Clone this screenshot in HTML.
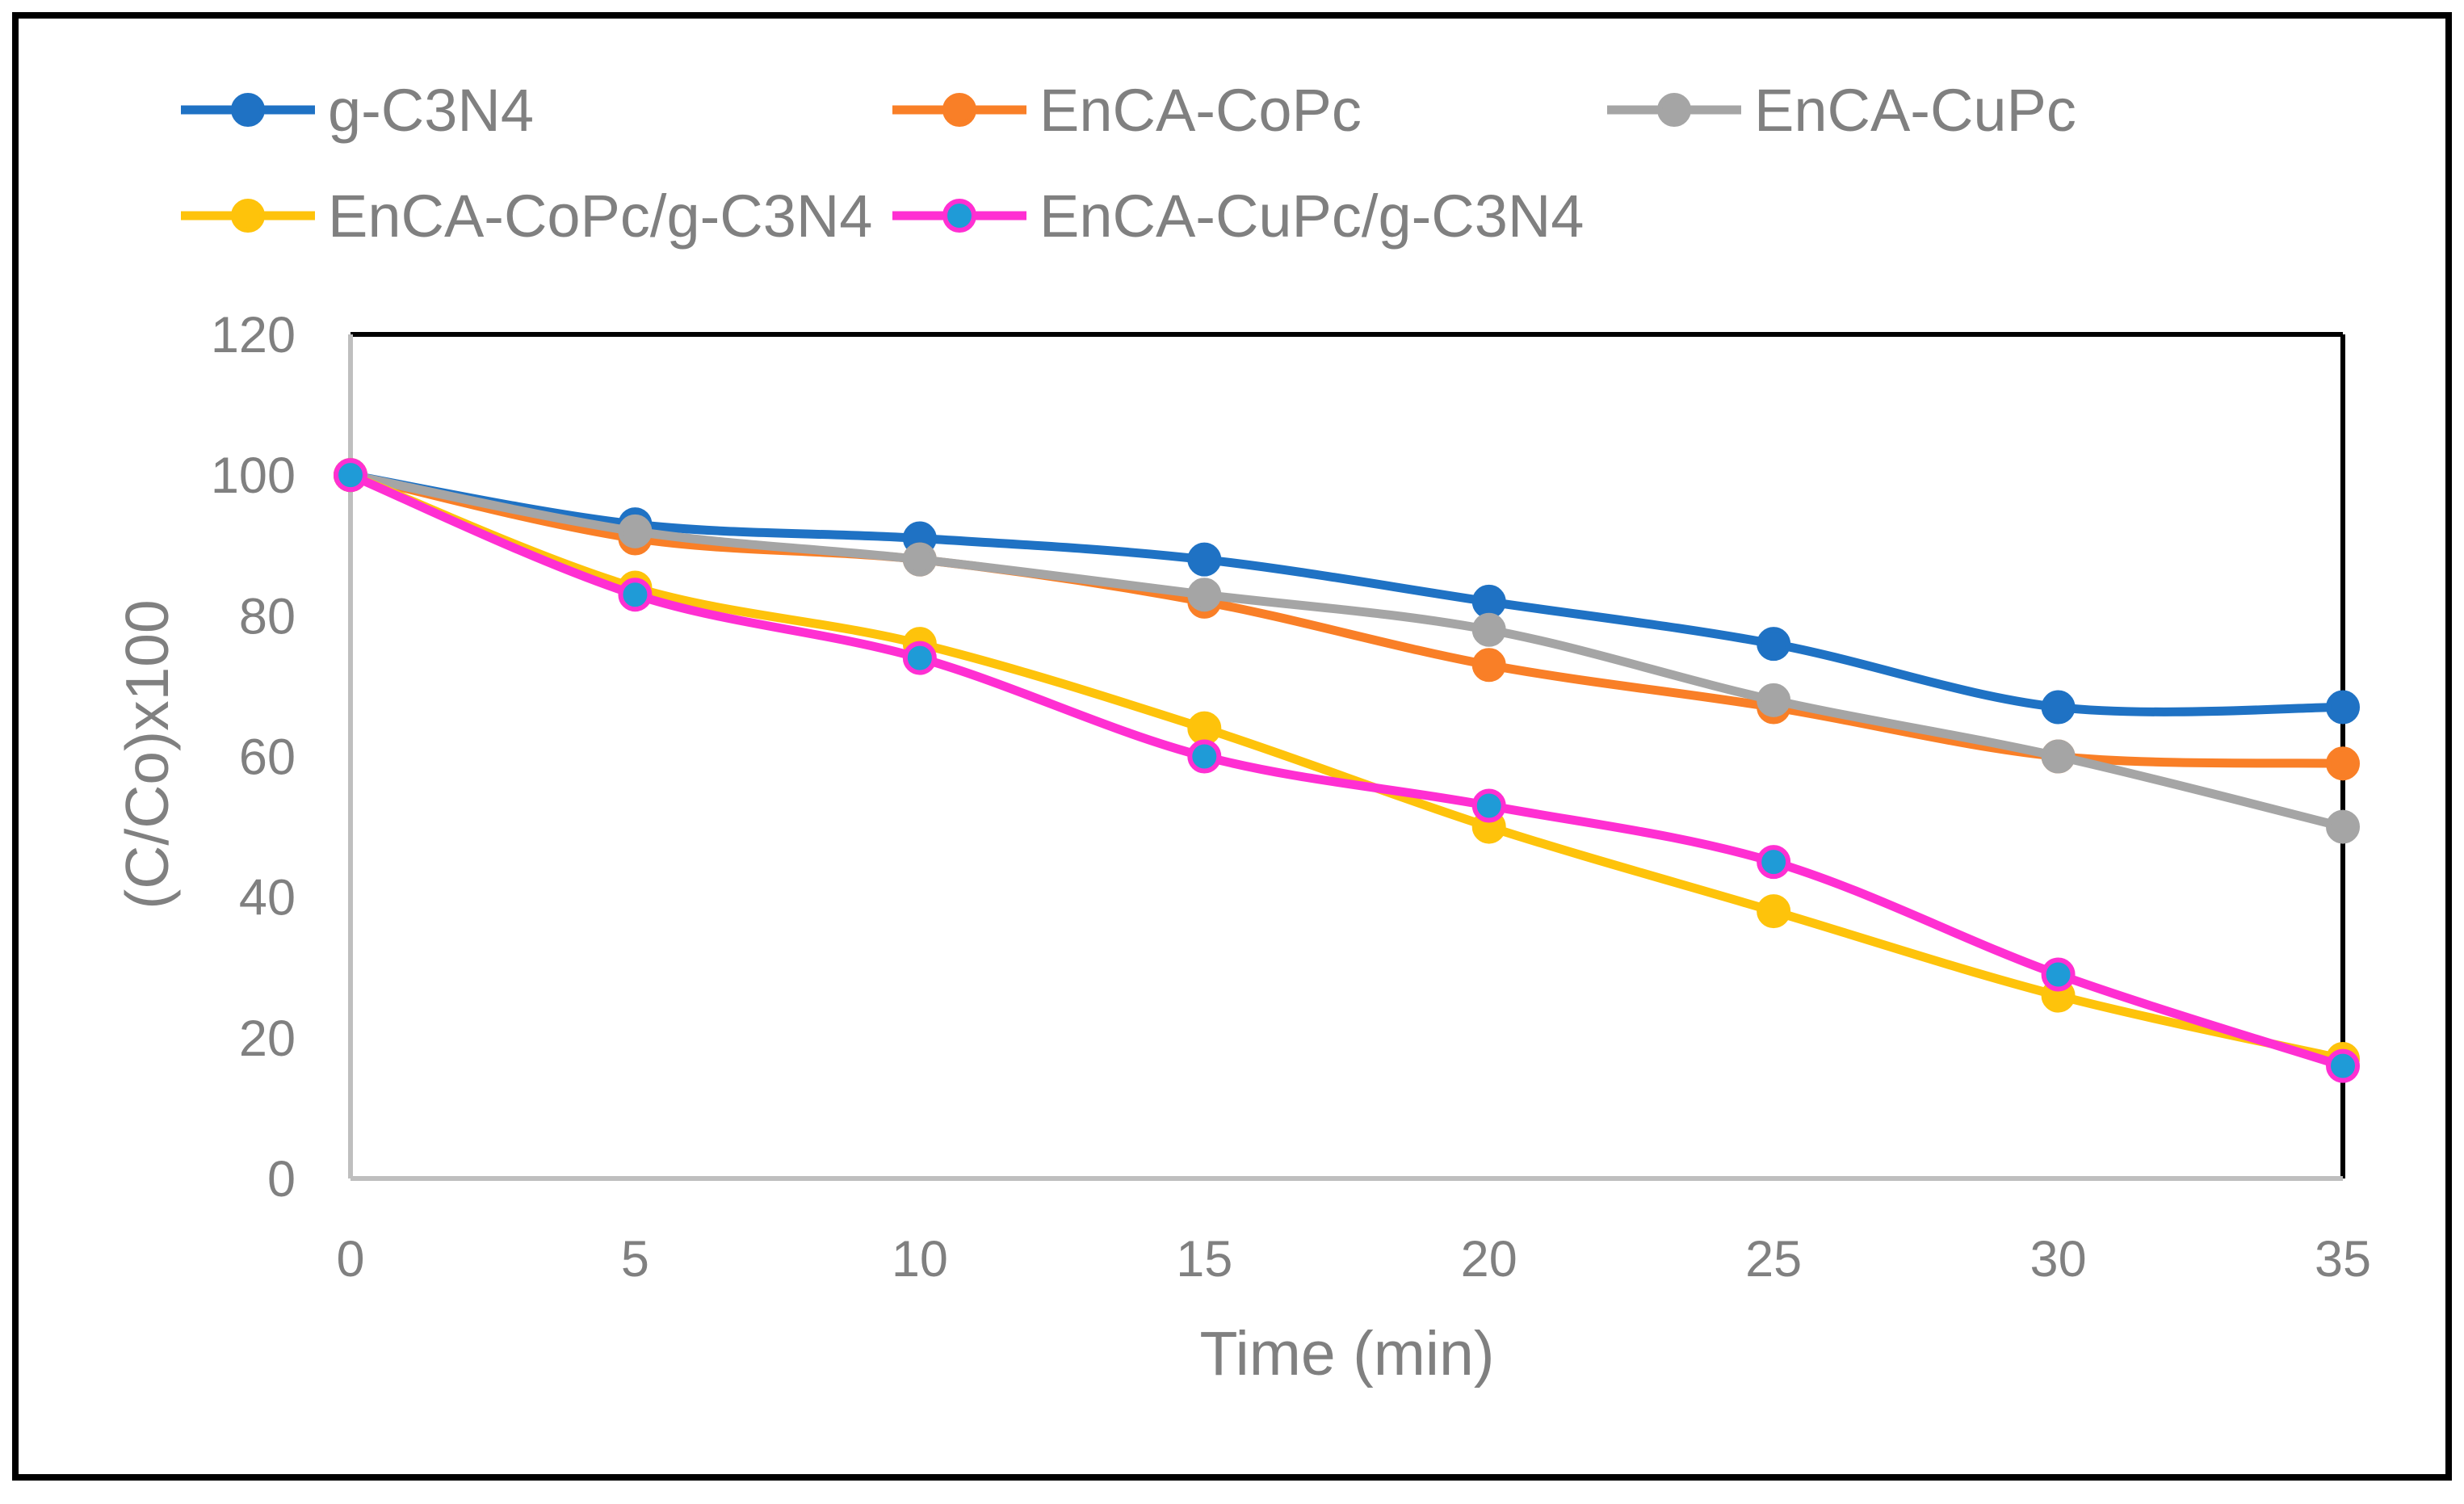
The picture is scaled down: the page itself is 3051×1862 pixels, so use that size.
<!DOCTYPE html>
<html><head><meta charset="utf-8"><style>
html,body{margin:0;padding:0;background:#fff;}
svg{display:block;font-family:"Liberation Sans","DejaVu Sans",sans-serif;}
</style></head><body>
<svg id="chart" width="3051" height="1862" viewBox="0 0 3051 1862">
<rect x="19" y="19" width="3013" height="1810" fill="#fff" stroke="#000" stroke-width="8"/>
<g id="plot"></g>
</svg>
<script>
const xValues = [0, 5, 10, 15, 20, 25, 30, 35];
const seriesNames = ["g-C3N4", "EnCA-CoPc", "EnCA-CuPc", "EnCA-CoPc/g-C3N4", "EnCA-CuPc/g-C3N4"];
const gC3N4 = [100, 93, 91, 88, 82, 76, 67, 67];
const encaCoPc = [100, 91, 88, 82, 73, 67, 60, 59];
const encaCuPc = [100, 92, 88, 83, 78, 68, 60, 50];
const encaCoPcG = [100, 84, 76, 64, 50, 38, 26, 17];
const encaCuPcG = [100, 83, 74, 60, 53, 45, 29, 16];
const yTicks = [0, 20, 40, 60, 80, 100, 120];
const xTicks = [0, 5, 10, 15, 20, 25, 30, 35];

const NS = "http://www.w3.org/2000/svg";
const svg = document.getElementById("chart");
const L = 434, R = 2901, T = 414, B = 1459;
const xs = v => L + (v - 0) / 35 * (R - L);
const ys = v => B - v / 120 * (B - T);
function mk(tag, attrs, parent) {
  const e = document.createElementNS(NS, tag);
  for (const k in attrs) e.setAttribute(k, attrs[k]);
  (parent || svg).appendChild(e);
  return e;
}
let e;
e = mk("line", {x1: L, y1: T, x2: R, y2: T, stroke: "#000", "stroke-width": 6});


e = mk("line", {x1: R, y1: T, x2: R, y2: B, stroke: "#000", "stroke-width": 6});


e = mk("line", {x1: L, y1: T, x2: L, y2: B, stroke: "#bfbfbf", "stroke-width": 6});


e = mk("line", {x1: L, y1: B, x2: R, y2: B, stroke: "#bfbfbf", "stroke-width": 6});



yTicks.forEach(v => {
  const t = mk("text", {x: 366, y: ys(v) + 22, "text-anchor": "end", "font-size": 63, fill: "#808080"});
  t.textContent = v;
  
  
});
xTicks.forEach(v => {
  const t = mk("text", {x: xs(v), y: 1580, "text-anchor": "middle", "font-size": 63, fill: "#808080"});
  t.textContent = v;
  
  
});
let t = mk("text", {x: 1668, y: 1702, "text-anchor": "middle", "font-size": 77, fill: "#808080"});
t.textContent = "Time (min)";


t = mk("text", {x: 0, y: 0, "text-anchor": "middle", "font-size": 75, fill: "#808080", transform: "translate(208,934) rotate(-90)"});
t.textContent = "(C/Co)x100";



const allSeries = [gC3N4, encaCoPc, encaCuPc, encaCoPcG, encaCuPcG];
const colors = ["#1f72c4", "#f97f27", "#a5a5a5", "#fec30b", "#ff2fd2"];
const fills = ["#1f72c4", "#f97f27", "#a5a5a5", "#fec30b", "#1f9bd7"];
const keys = ["g-c3n4", "enca-copc", "enca-cupc", "enca-copc-gc3n4", "enca-cupc-gc3n4"];

function smoothPath(pts) {
  let d = `M${pts[0][0]},${pts[0][1]}`;
  for (let i = 0; i < pts.length - 1; i++) {
    const p0 = pts[Math.max(0, i - 1)], p1 = pts[i], p2 = pts[i + 1], p3 = pts[Math.min(pts.length - 1, i + 2)];
    const c1x = p1[0] + (p2[0] - p0[0]) / 6, c1y = p1[1] + (p2[1] - p0[1]) / 6;
    const c2x = p2[0] - (p3[0] - p1[0]) / 6, c2y = p2[1] - (p3[1] - p1[1]) / 6;
    d += ` C${c1x},${c1y} ${c2x},${c2y} ${p2[0]},${p2[1]}`;
  }
  return d;
}
allSeries.forEach((vals, si) => {
  const g = mk("g", {});
  
  
  const pts = vals.map((v, i) => [xs(xValues[i]), ys(v)]);
  const p = mk("path", {d: smoothPath(pts), fill: "none", stroke: colors[si], "stroke-width": 11, "stroke-linejoin": "round"}, g);
  
  
  pts.forEach(pt => {
    const c = mk("circle", {cx: pt[0], cy: pt[1], r: 18, fill: fills[si], stroke: colors[si], "stroke-width": 6}, g);
    
    
  });
});

const legX = [224, 1105, 1990, 224, 1105];
const legY = [136, 136, 136, 267, 267];
allSeries.forEach((vals, si) => {
  const g = mk("g", {});
  
  
  const x = legX[si], y = legY[si];
  mk("line", {x1: x, y1: y, x2: x + 166, y2: y, stroke: colors[si], "stroke-width": 11}, g);
  mk("circle", {cx: x + 83, cy: y, r: 18, fill: fills[si], stroke: colors[si], "stroke-width": 6}, g);
  const tx = mk("text", {x: x + 182, y: y + 26, "font-size": 74, fill: "#808080"}, g);
  tx.textContent = seriesNames[si];
});
</script>
</body></html>
